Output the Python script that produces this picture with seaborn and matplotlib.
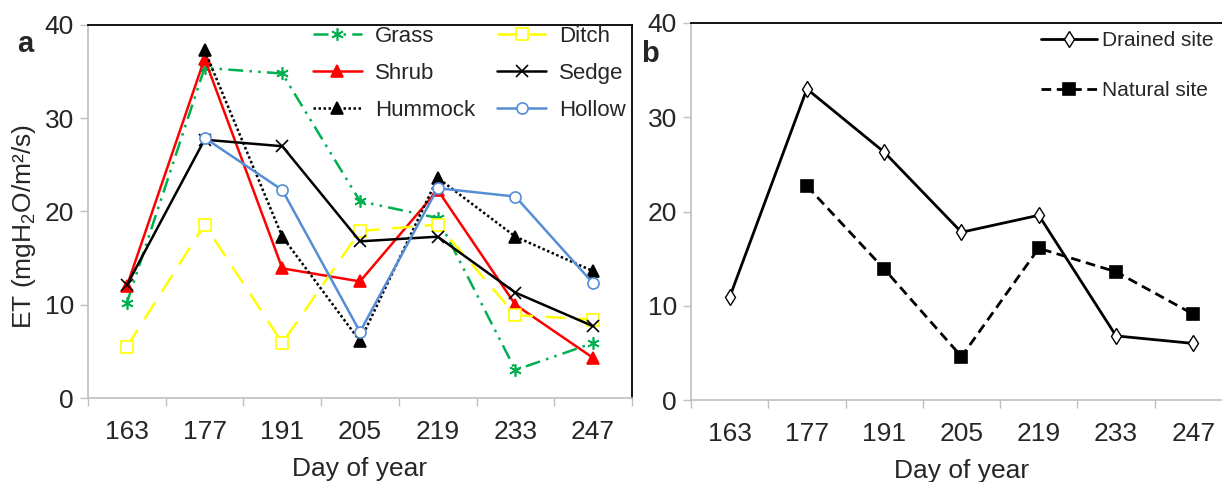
import numpy as np
import pandas as pd
import seaborn as sns
import matplotlib
matplotlib.use("Agg")
import matplotlib.pyplot as plt
from matplotlib.ticker import FixedLocator, NullFormatter

# ---- data -------------------------------------------------------------
days = ["163", "177", "191", "205", "219", "233", "247"]

grass   = [10.2, 35.4, 34.8, 21.1, 19.3, 3.0, 5.9]
ditch   = [5.5, 18.6, 5.9, 17.9, 18.6, 8.9, 8.4]
shrub   = [12.0, 36.4, 13.9, 12.5, 22.3, 10.0, 4.3]
sedge   = [12.1, 27.7, 27.0, 16.8, 17.3, 11.3, 7.7]
hummock = [np.nan, 37.3, 17.3, 6.1, 23.6, 17.3, 13.6]
hollow  = [np.nan, 27.9, 22.3, 7.1, 22.5, 21.6, 12.3]

drained = [10.9, 33.0, 26.3, 17.8, 19.6, 6.8, 6.0]
natural = [np.nan, 22.7, 13.9, 4.6, 16.1, 13.6, 9.1]

y_ticks = [0, 10, 20, 30, 40]

# ---- style ------------------------------------------------------------
sns.set_theme(style="white")
base_font = "Liberation Sans"
plt.rcParams["font.family"] = [base_font, "DejaVu Sans"]
plt.rcParams["mathtext.fontset"] = "custom"
plt.rcParams["mathtext.rm"] = base_font
plt.rcParams["mathtext.it"] = base_font

GRID_GREY = "#BFBFBF"
TICK_SIZE = 19

W, H = 1222, 482
fig = plt.figure(figsize=(W / 100, H / 100), dpi=100)
ax_a = fig.add_axes([88 / W, 1 - 398 / H, 544 / W, 373 / H])
ax_b = fig.add_axes([691 / W, 1 - 400 / H, 541 / W, 377 / H])

pos = np.arange(len(days))


def draw(ax, values, label, color, ls, marker, ms, mfc, mec, lw=1.8, mew=1.2):
    s = pd.Series(values, index=pos).dropna()
    sns.lineplot(x=s.index.to_numpy(), y=s.to_numpy(), ax=ax, label=label,
                 color=color, linestyle=ls, linewidth=lw, marker=marker,
                 markersize=ms, markerfacecolor=mfc, markeredgecolor=mec,
                 markeredgewidth=mew)


# panel a
draw(ax_a, grass, "Grass", "#00B050", (0, (6, 2.5, 1, 2.5, 1, 2.5)), (6, 2, 0), 9, "#00B050", "#00B050")
draw(ax_a, shrub, "Shrub", "#FF0000", "-", "^", 8, "#FF0000", "#FF0000")
draw(ax_a, hummock, "Hummock", "#000000", (0, (1, 1)), "^", 8, "#000000", "#000000")
draw(ax_a, ditch, "Ditch", "#FFFF00", (0, (8, 5)), "s", 8, "white", "#FFFF00")
draw(ax_a, sedge, "Sedge", "#000000", "-", "x", 8, "#000000", "#000000")
draw(ax_a, hollow, "Hollow", "#558ED5", "-", "o", 8, "white", "#558ED5")

# panel b
draw(ax_b, drained, "Drained site", "#000000", "-", "d", 8, "white", "#000000", lw=2.0, mew=1.0)
draw(ax_b, natural, "Natural site", "#000000", (0, (3.5, 2)), "s", 9, "#000000", "#000000", lw=2.0)


def style_axes(ax, dotted):
    ax.set_xlim(-0.5, len(days) - 0.5)
    ax.set_ylim(0, 40)
    ax.set_xlabel("Day of year", fontsize=TICK_SIZE, labelpad=10)
    # category boundaries carry the tick marks, centres carry the labels
    ax.xaxis.set_major_locator(FixedLocator(np.arange(-0.5, len(days), 1.0)))
    ax.xaxis.set_major_formatter(NullFormatter())
    ax.xaxis.set_minor_locator(FixedLocator(pos))
    ax.set_xticklabels(days, minor=True)
    ax.tick_params(axis="x", which="major", direction="out", length=6,
                   width=1, color=GRID_GREY, bottom=True)
    ax.tick_params(axis="x", which="minor", length=0, pad=15.5,
                   labelsize=TICK_SIZE, bottom=True)
    ax.set_yticks(y_ticks)
    ax.tick_params(axis="y", direction="out", length=6, width=1,
                   color=GRID_GREY, left=True, labelsize=TICK_SIZE, pad=4)
    for side in ("left", "bottom"):
        ax.spines[side].set_color(GRID_GREY)
        ax.spines[side].set_linewidth(1.2)
        if dotted:
            ax.spines[side].set_linestyle((0, (2, 1)))
    for side in ("top", "right"):
        ax.spines[side].set_color("black")
        ax.spines[side].set_linewidth(1.3)
    ax.grid(False)


style_axes(ax_a, dotted=False)
style_axes(ax_b, dotted=True)
ax_b.set_ylabel("")

ax_a.set_ylabel("ET (mgH$_2$O/m²/s)", fontsize=TICK_SIZE)
ax_a.yaxis.set_label_coords(-0.118, 0.46)
ax_a.yaxis.label.set_va("center")

# legends
h, l = ax_a.get_legend_handles_labels()
ax_a.legend(h, l, ncol=2, loc="upper left", frameon=False, fontsize=16,
            bbox_to_anchor=(313 / W, 1 - 26 / H), bbox_transform=fig.transFigure,
            borderpad=0, borderaxespad=0, handlelength=2.2, handletextpad=0.58,
            columnspacing=1.0, labelspacing=0.71)

h, l = ax_b.get_legend_handles_labels()
ax_b.legend(h, l, loc="upper left", frameon=False, fontsize=15,
            bbox_to_anchor=(1041 / W, 1 - 31 / H), bbox_transform=fig.transFigure,
            borderpad=0, borderaxespad=0, handlelength=2.7, handletextpad=0.24,
            labelspacing=1.5)

fig.text(17 / W, 1 - 52 / H, "a", fontsize=21, fontweight="bold", va="baseline")
fig.text(641 / W, 1 - 62 / H, "b", fontsize=21, fontweight="bold", va="baseline")

fig.savefig("out.png", dpi=100, facecolor="white")
